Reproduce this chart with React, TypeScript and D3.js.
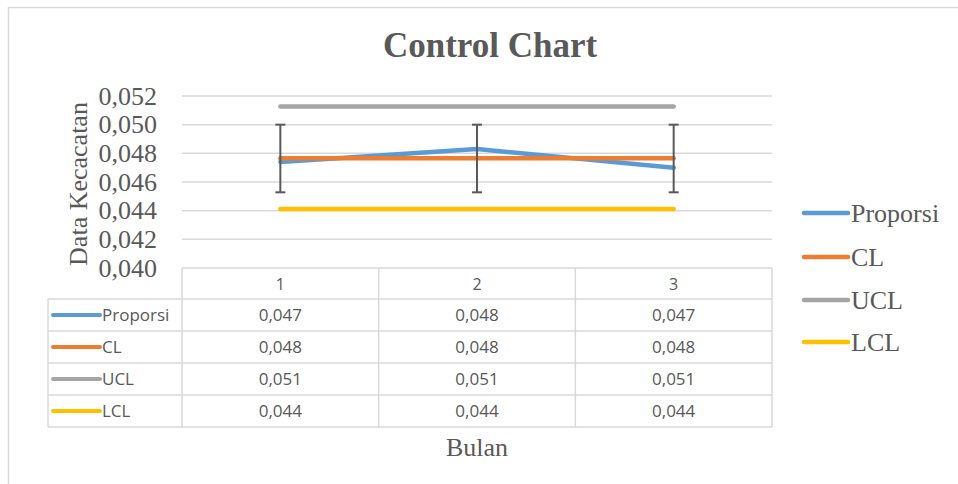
import React from "react";
import * as d3 from "d3";

const categories = ["1", "2", "3"];
const proporsi = [0.0474, 0.0483, 0.047];
const cl = [0.04765, 0.04765, 0.04765];
const ucl = [0.05126, 0.05126, 0.05126];
const lcl = [0.04412, 0.04412, 0.04412];
const errLow = [0.04528, 0.04528, 0.04528];
const errHigh = [0.05, 0.05, 0.05];
const tableValues = [
  ["0,047", "0,048", "0,047"],
  ["0,048", "0,048", "0,048"],
  ["0,051", "0,051", "0,051"],
  ["0,044", "0,044", "0,044"],
];
const seriesNames = ["Proporsi", "CL", "UCL", "LCL"];
const seriesColors = ["#5B9BD5", "#ED7D31", "#A5A5A5", "#FFC000"];
const yTicks = [0.04, 0.042, 0.044, 0.046, 0.048, 0.05, 0.052];

export default function App() {
  const W = 958, H = 484;
  const left = 182, right = 772, top = 96, bottom = 268;
  const x = d3.scaleBand<string>().domain(categories).range([left, right]).padding(0);
  const y = d3.scaleLinear().domain([0.04, 0.052]).range([bottom, top]);
  const cx = (c: string) => (x(c) as number) + x.bandwidth() / 2;
  const line = d3
    .line<number>()
    .x((_, i) => cx(categories[i]))
    .y((d) => y(d));
  const allSeries = [proporsi, cl, ucl, lcl];
  const serif = "'Liberation Serif', 'Times New Roman', serif";
  const sans = "'Open Sans', 'Liberation Sans', sans-serif";
  const txt = "#595959";
  const grid = "#d9d9d9";

  const headerTop = bottom;
  const headerH = 31;
  const rowH = 32;
  const tableLeft = 48;
  const rowTops = seriesNames.map((_, i) => headerTop + headerH + i * rowH);
  const tableBottom = headerTop + headerH + seriesNames.length * rowH;

  const legendYs = [213, 257, 300, 342];

  return (
    <svg
      width={W}
      height={H}
      style={{ position: "absolute", left: 0, top: 0, background: "#fff" }}
    >
      <rect x={0} y={0} width={W} height={H} fill="#fff" />
      <rect x={8.5} y={7.5} width={1200} height={1200} fill="#fff" stroke={grid} strokeWidth={1.5} />
      <text
        x={490}
        y={57}
        textAnchor="middle"
        fontFamily={serif}
        fontWeight="bold"
        fontSize={35}
        fill={txt}
      >
        Control Chart
      </text>

      {/* gridlines */}
      {yTicks.slice(1).map((t) => (
        <line key={t} x1={left} x2={right} y1={y(t)} y2={y(t)} stroke={grid} strokeWidth={1.5} />
      ))}
      {/* y tick labels */}
      {yTicks.map((t) => (
        <text
          key={"l" + t}
          x={157}
          y={y(t) + 8.5}
          textAnchor="end"
          fontFamily={serif}
          fontSize={26}
          fill={txt}
        >
          {d3.format(".3f")(t).replace(".", ",")}
        </text>
      ))}
      <text
        transform={`translate(87,${184}) rotate(-90)`}
        textAnchor="middle"
        fontFamily={serif}
        fontSize={26}
        fill={txt}
      >
        Data Kecacatan
      </text>

      {/* series */}
      {allSeries.map((s, i) => (
        <path
          key={seriesNames[i]}
          d={line(s) as string}
          fill="none"
          stroke={seriesColors[i]}
          strokeWidth={4.5}
          strokeLinecap="round"
          strokeLinejoin="round"
        />
      ))}
      {/* error bars */}
      {categories.map((c, i) => (
        <g key={"e" + c} stroke="#595959" strokeWidth={2}>
          <line x1={cx(c)} x2={cx(c)} y1={y(errHigh[i])} y2={y(errLow[i])} />
          <line x1={cx(c) - 5} x2={cx(c) + 5} y1={y(errHigh[i])} y2={y(errHigh[i])} />
          <line x1={cx(c) - 5} x2={cx(c) + 5} y1={y(errLow[i])} y2={y(errLow[i])} />
        </g>
      ))}

      {/* data table */}
      <g stroke={grid} strokeWidth={1.5} fill="none">
        <line x1={left} x2={right} y1={headerTop} y2={headerTop} />
        {rowTops.map((r) => (
          <line key={"r" + r} x1={tableLeft} x2={right} y1={r} y2={r} />
        ))}
        <line x1={tableLeft} x2={right} y1={tableBottom} y2={tableBottom} />
        <line x1={tableLeft} x2={tableLeft} y1={rowTops[0]} y2={tableBottom} />
        {categories.map((c) => (
          <line key={"v" + c} x1={x(c) as number} x2={x(c) as number} y1={headerTop} y2={tableBottom} />
        ))}
        <line x1={right} x2={right} y1={headerTop} y2={tableBottom} />
      </g>
      {categories.map((c) => (
        <text
          key={"h" + c}
          x={cx(c)}
          y={headerTop + headerH / 2 + 6}
          textAnchor="middle"
          fontFamily={sans}
          fontSize={16}
          fill={txt}
        >
          {c}
        </text>
      ))}
      {seriesNames.map((name, i) => (
        <g key={"row" + name}>
          <line
            x1={53}
            x2={100}
            y1={rowTops[i] + rowH / 2}
            y2={rowTops[i] + rowH / 2}
            stroke={seriesColors[i]}
            strokeWidth={4}
            strokeLinecap="round"
          />
          <text
            x={102}
            y={rowTops[i] + rowH / 2 + 6}
            fontFamily={sans}
            fontSize={17}
            fill={txt}
          >
            {name}
          </text>
          {categories.map((c, j) => (
            <text
              key={c}
              x={cx(c)}
              y={rowTops[i] + rowH / 2 + 6}
              textAnchor="middle"
              fontFamily={sans}
              fontSize={17}
              fill={txt}
            >
              {tableValues[i][j]}
            </text>
          ))}
        </g>
      ))}
      <text x={477} y={456} textAnchor="middle" fontFamily={serif} fontSize={26} fill={txt}>
        Bulan
      </text>

      {/* legend */}
      {seriesNames.map((name, i) => (
        <g key={"leg" + name}>
          <line
            x1={804}
            x2={848}
            y1={legendYs[i]}
            y2={legendYs[i]}
            stroke={seriesColors[i]}
            strokeWidth={4.5}
            strokeLinecap="round"
          />
          <text x={851} y={legendYs[i] + 9} fontFamily={serif} fontSize={26} fill={txt}>
            {name}
          </text>
        </g>
      ))}
    </svg>
  );
}
